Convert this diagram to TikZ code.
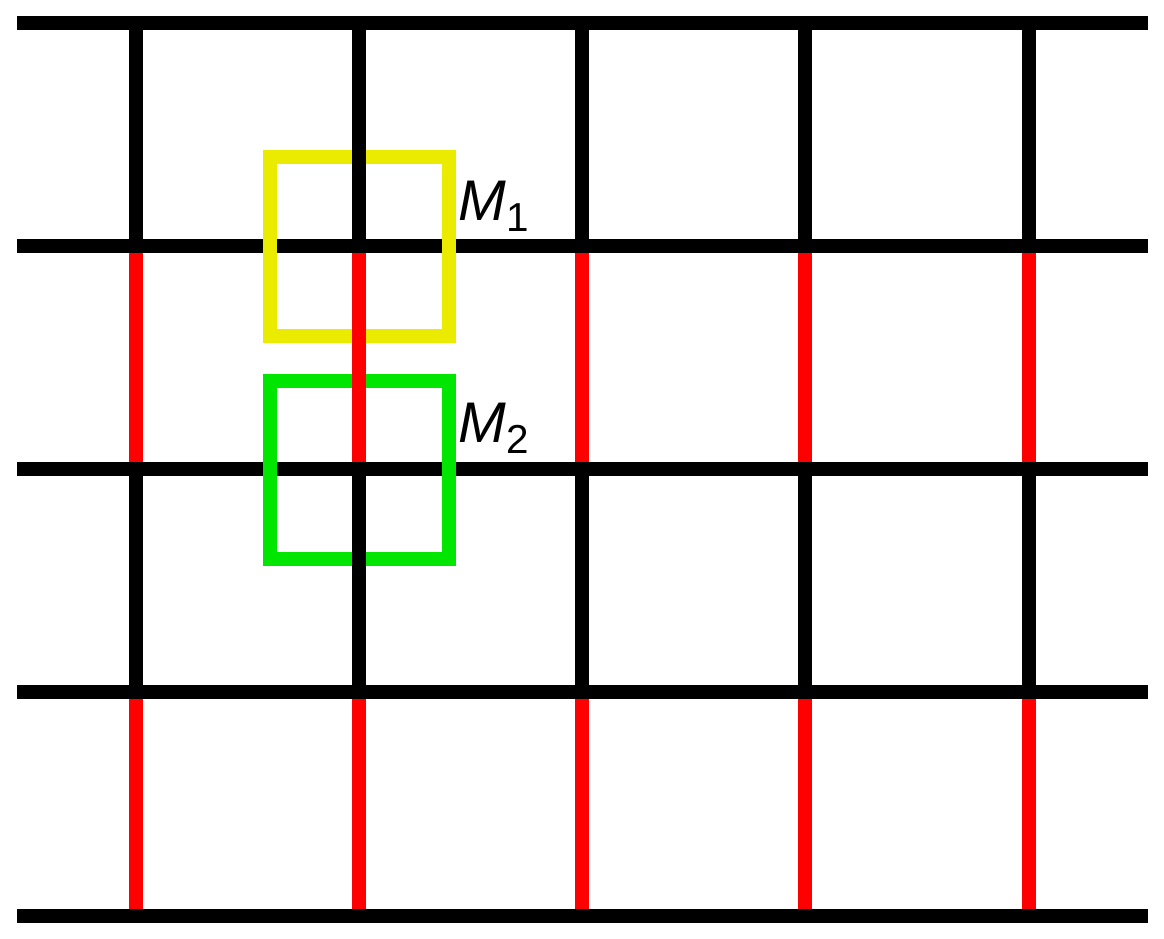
\documentclass[tikz,border=0pt]{standalone}
\usepackage{fontspec}
\setmainfont{Liberation Sans}
\usepackage{tikz}
\usetikzlibrary{positioning}

\definecolor{markyellow}{RGB}{235,235,0}
\definecolor{markgreen}{RGB}{0,230,0}

\newcommand{\mlabel}[1]{\textit{M}\raisebox{-3.1pt}{\fontsize{11.5}{12}\selectfont #1}}

\begin{document}
\begin{tikzpicture}[
    x=1cm, y=-1cm,
    font=\fontsize{16.3}{18}\selectfont,
    wire/.style={line width=0.14cm, black},
    hotwire/.style={line width=0.14cm, red},
    window/.style={line width=0.14cm, draw=#1},
    tag/.style={anchor=base west, inner sep=0pt}
]
    \useasboundingbox (0,0) rectangle (11.64,9.39);

    % Rails
    \foreach \r in {0.23,2.46,4.69,6.92,9.16}
        \draw[wire] (0.17,\r) -- (11.48,\r);

    % Windows
    \draw[window=markyellow] (2.70,1.57) rectangle (4.49,3.36);
    \draw[window=markgreen] (2.70,3.81) rectangle (4.49,5.59);

    % Rungs
    \foreach \c in {1.36,3.59,5.82,8.05,10.29} {
        \draw[wire] (\c,0.23) -- (\c,2.46);
        \draw[hotwire] (\c,2.53) -- (\c,4.62);
        \draw[wire] (\c,4.69) -- (\c,6.92);
        \draw[hotwire] (\c,6.99) -- (\c,9.09);
    }

    % Labels
    \node[tag] (m1) at (4.58,2.21) {\mlabel{1}};
    \node[tag] (m2) at (4.58,4.43) {\mlabel{2}};
\end{tikzpicture}
\end{document}
